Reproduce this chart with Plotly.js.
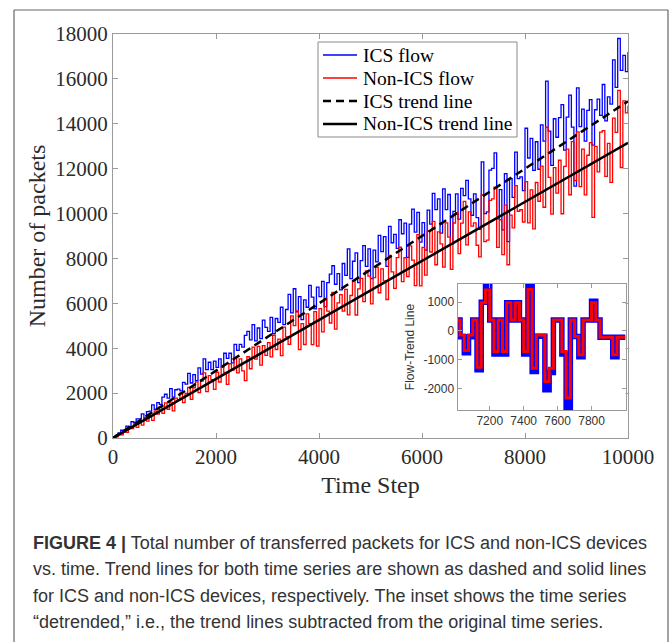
<!DOCTYPE html>
<html>
<head>
<meta charset="utf-8">
<script src="https://cdn.plot.ly/plotly-3.0.1.min.js"></script>
<style>html,body{margin:0;padding:0;background:#fff;}</style>
</head>
<body>
<div id="chart" style="width:672px;height:642px;"></div>
<script>
// ---- Data ----
const stepSize = 50;           // time-step spacing of the sampled flows
const icsFlow = [
  0, 115, 230, 345, 270, 525, 510, 725, 690, 855,
  850, 1075, 850, 1175, 1200, 1475, 1280, 1575, 1500, 1825,
  1950, 1775, 2200, 1825, 2150, 2175, 2100, 2475, 2400, 2875,
  2450, 2825, 2550, 3125, 2850, 3525, 3050, 3375, 3050, 3425,
  3150, 3525, 3150, 3775, 3550, 3775, 3350, 4175, 3900, 4175,
  4050, 4575, 4750, 4375, 5050, 4325, 4900, 4425, 5250, 4925,
  4750, 5375, 4650, 5325, 5150, 5825, 5050, 5725, 6400, 5575,
  6650, 5625, 6300, 5275, 6150, 5825, 6800, 6275, 5750, 6725,
  6300, 6975, 5850, 6925, 7300, 7675, 6850, 7325, 6600, 7775,
  7250, 8425, 7100, 7875, 8250, 6925, 7900, 8575, 7650, 8425,
  7100, 8375, 7850, 9025, 8300, 8975, 7650, 9425, 8700, 9075,
  8450, 9725, 9100, 9575, 8050, 9525, 10200, 9175, 10050, 8725,
  9600, 8375, 10150, 9525, 10900, 10175, 10650, 9125, 11100, 10175,
  10850, 8625, 10100, 10875, 9750, 11125, 10800, 11475, 10650, 9925,
  10880, 9815, 9295, 12305, 10000, 10075, 11935, 12010, 12700, 9760,
  11070, 9275, 11780, 8750, 11550, 10725, 12740, 11555, 11630, 11025,
  13800, 12475, 13350, 11925, 13200, 11975, 13950, 13225, 15900, 13675,
  12150, 14225, 13400, 14275, 14850, 12825, 14300, 15275, 13850, 11225,
  15600, 13875, 14650, 13225, 14600, 15075, 13050, 14625, 15100, 14375,
  15750, 14125, 15200, 14875, 16850, 15625, 17800, 16375, 17050, 16325,
  17200
];
const nonIcsFlow = [
  0, 46, 172, 137, 293, 249, 455, 420, 626, 472,
  738, 573, 909, 755, 981, 786, 1202, 1068, 1384, 1099,
  1565, 1281, 1597, 1212, 1778, 1694, 2010, 1575, 1991, 2257,
  1723, 2238, 2504, 2020, 2536, 2901, 2067, 2783, 2599, 2164,
  2930, 2496, 3162, 2927, 2393, 3309, 3025, 3590, 2906, 3522,
  2988, 2553, 3619, 3085, 4051, 3516, 4082, 3248, 4114, 3679,
  4245, 3611, 4577, 3942, 4408, 3674, 4940, 4505, 4171, 5437,
  5003, 5668, 3934, 5100, 4166, 5531, 5097, 4163, 5629, 4094,
  5760, 4726, 6192, 5657, 5123, 6489, 4855, 6020, 6386, 5652,
  6618, 5483, 6349, 7015, 5481, 6646, 7112, 6078, 7444, 7209,
  5975, 7141, 7607, 6472, 7538, 7004, 6170, 8135, 7401, 6667,
  8033, 8498, 6964, 8030, 7196, 8561, 7927, 6793, 9059, 6774,
  8490, 7256, 9222, 8287, 9653, 7719, 9185, 8650, 7616, 9582,
  8948, 7513, 9579, 10045, 8211, 9576, 10542, 8608, 10074, 9439,
  9587, 8587, 8074, 10827, 8750, 8816, 10585, 10650, 11179, 8497,
  9724, 8168, 10376, 7720, 9929, 9361, 11242, 10103, 10169, 9624,
  11420, 9586, 11052, 9317, 11383, 10549, 12115, 10280, 13846, 11612,
  9978, 12043, 10909, 12375, 9991, 12106, 12872, 10838, 13204, 11469,
  13635, 11201, 12867, 10832, 12598, 13164, 9830, 12995, 11861, 13627,
  13693, 11658, 13124, 11390, 14256, 13621, 15487, 12053, 15019, 14484,
  14800
];
const trendTime = [0, 10000];
const icsTrend = [0, 15000];
const nonIcsTrend = [0, 13150];

// inset: detrended series
const insetTime = [7000, 7025, 7050, 7075, 7100, 7125, 7150, 7175, 7200, 7225,
  7250, 7275, 7300, 7325, 7350, 7375, 7400, 7425, 7450, 7475,
  7500, 7525, 7550, 7575, 7600, 7625, 7650, 7675, 7700, 7725,
  7750, 7775, 7800, 7825, 7850, 7875, 7900, 7925, 7950, 7975, 8000];
const insetIcs = [382, -200, -760, -200, 382, -1356, 1000, 1580, 382, -800,
  382, -800, 985, 382, 985, 382, -800, 1600, -1414, -180,
  -180, -2050, -1450, 382, 382, -800, -2723, 382, -197, -900,
  382, 382, 1040, 382, -220, -220, -220, -900, -220, -220, -220];
const insetNonIcs = [382, -139, -684, -139, 382, -1263, 985, 1425, 382, -718,
  382, -718, 985, 382, 985, 382, -718, 1448, -1300, -139,
  -139, -1760, -1300, 382, 382, -718, -2340, 382, -197, -830,
  382, 382, 985, 382, -220, -220, -220, -830, -220, -220, -220];

const xTicks = [0, 2000, 4000, 6000, 8000, 10000];
const yTicks = [0, 2000, 4000, 6000, 8000, 10000, 12000, 14000, 16000, 18000];
const insetXTicks = [7200, 7400, 7600, 7800];
const insetYTicks = [-2000, -1000, 0, 1000];

const legendLabels = ['ICS flow', 'Non-ICS flow', 'ICS trend line', 'Non-ICS trend line'];

const captionLines = [
  '<b>FIGURE 4 |</b> Total number of transferred packets for ICS and non-ICS devices',
  'vs. time. Trend lines for both time series are shown as dashed and solid lines',
  'for ICS and non-ICS devices, respectively. The inset shows the time series',
  '\u201cdetrended,\u201d i.e., the trend lines subtracted from the original time series.'
];

// ---- Build ----
const flowTime = icsFlow.map((_, i) => i * stepSize);
const serif = 'Liberation Serif, Times New Roman, serif';
const sans = 'Liberation Sans, Arial, sans-serif';

const styles = [
  {color: '#0000ff', width: 1.3},
  {color: '#ff0000', width: 1.3},
  {color: '#000000', width: 2.5, dash: '8px,5px'},
  {color: '#000000', width: 2.5}
];

const traces = [
  {x: flowTime, y: icsFlow, type: 'scatter', mode: 'lines', name: legendLabels[0],
   line: Object.assign({shape: 'hv'}, styles[0])},
  {x: flowTime, y: nonIcsFlow, type: 'scatter', mode: 'lines', name: legendLabels[1],
   line: Object.assign({shape: 'hv'}, styles[1])},
  {x: trendTime, y: icsTrend, type: 'scatter', mode: 'lines', name: legendLabels[2],
   line: styles[2]},
  {x: trendTime, y: nonIcsTrend, type: 'scatter', mode: 'lines', name: legendLabels[3],
   line: styles[3]},
  {x: insetTime, y: insetIcs, type: 'scatter', mode: 'lines',
   xaxis: 'x2', yaxis: 'y2', line: {color: '#0000ff', width: 5.5, shape: 'hv'}},
  {x: insetTime, y: insetNonIcs, type: 'scatter', mode: 'lines',
   xaxis: 'x2', yaxis: 'y2', line: {color: '#ff0000', width: 3, shape: 'hv'}}
];

const L = 113, R = 628, T = 34, B = 438;
const px2x = p => (p - L) / (R - L);
const py2y = p => (B - p) / (B - T);

const annotations = captionLines.map((t, i) => ({
  text: t, xref: 'paper', yref: 'paper', x: px2x(31), y: py2y([543, 569, 596, 622][i]),
  xanchor: 'left', yanchor: 'middle', showarrow: false, align: 'left',
  font: {family: sans, size: 18, color: '#333333'}
}));

const frameColor = '#666666';
const shapes = [
  {type: 'line', xref: 'paper', yref: 'paper', x0: px2x(14), x1: px2x(14), y0: py2y(10), y1: py2y(645), line: {color: frameColor, width: 1.2}},
  {type: 'line', xref: 'paper', yref: 'paper', x0: px2x(668), x1: px2x(668), y0: py2y(10), y1: py2y(645), line: {color: frameColor, width: 1.2}},
  {type: 'line', xref: 'paper', yref: 'paper', x0: px2x(14), x1: px2x(668), y0: py2y(10), y1: py2y(10), line: {color: frameColor, width: 1.2}},
  // legend box
  {type: 'rect', xref: 'paper', yref: 'paper', x0: px2x(318), x1: px2x(517), y0: py2y(42), y1: py2y(137),
   fillcolor: '#ffffff', line: {color: '#8a8a8a', width: 1}}
];
const legendRows = [55, 78, 101, 124];
legendLabels.forEach((lab, i) => {
  shapes.push({type: 'line', xref: 'paper', yref: 'paper', x0: px2x(323), x1: px2x(357),
    y0: py2y(legendRows[i]), y1: py2y(legendRows[i]), line: styles[i]});
  annotations.push({text: lab, xref: 'paper', yref: 'paper', x: px2x(361), y: py2y(legendRows[i]),
    xanchor: 'left', yanchor: 'middle', showarrow: false,
    font: {family: serif, size: 19.5, color: '#000000'}});
});

const axisCommon = {
  showline: true, linecolor: '#9a9a9a', linewidth: 1, mirror: 'ticks',
  ticks: 'inside', tickcolor: '#9a9a9a', showgrid: false, zeroline: false
};

const layout = {
  width: 672, height: 642,
  margin: {l: L, r: 672 - R, t: T, b: 642 - B},
  paper_bgcolor: '#ffffff', plot_bgcolor: '#ffffff',
  showlegend: false,
  xaxis: Object.assign({}, axisCommon, {
    range: [0, 10000], tickvals: xTicks, ticktext: xTicks.map(String), ticklen: 5,
    tickfont: {family: serif, size: 21, color: '#2b2b2b'},
    title: {text: 'Time Step', font: {family: serif, size: 24, color: '#2b2b2b'}, standoff: 7}
  }),
  yaxis: Object.assign({}, axisCommon, {
    range: [0, 18000], tickvals: yTicks, ticktext: yTicks.map(String), ticklen: 5,
    tickfont: {family: serif, size: 21, color: '#2b2b2b'},
    title: {text: 'Number of packets', font: {family: serif, size: 24, color: '#2b2b2b'}, standoff: 2}
  }),
  xaxis2: Object.assign({}, axisCommon, {
    domain: [px2x(457.5), px2x(625.5)], anchor: 'y2', range: [7010, 8000],
    tickvals: insetXTicks, ticktext: insetXTicks.map(String), ticklen: 4,
    tickfont: {family: sans, size: 12, color: '#333333'}
  }),
  yaxis2: Object.assign({}, axisCommon, {
    domain: [py2y(410), py2y(284)], anchor: 'x2', range: [-2756, 1638],
    tickvals: insetYTicks, ticktext: insetYTicks.map(String), ticklen: 4,
    tickfont: {family: sans, size: 12, color: '#333333'},
    title: {text: 'Flow-Trend Line', font: {family: sans, size: 12, color: '#333333'}, standoff: 6}
  }),
  annotations: annotations,
  shapes: shapes
};

Plotly.newPlot('chart', traces, layout, {staticPlot: true, displayModeBar: false});
</script>
</body>
</html>
